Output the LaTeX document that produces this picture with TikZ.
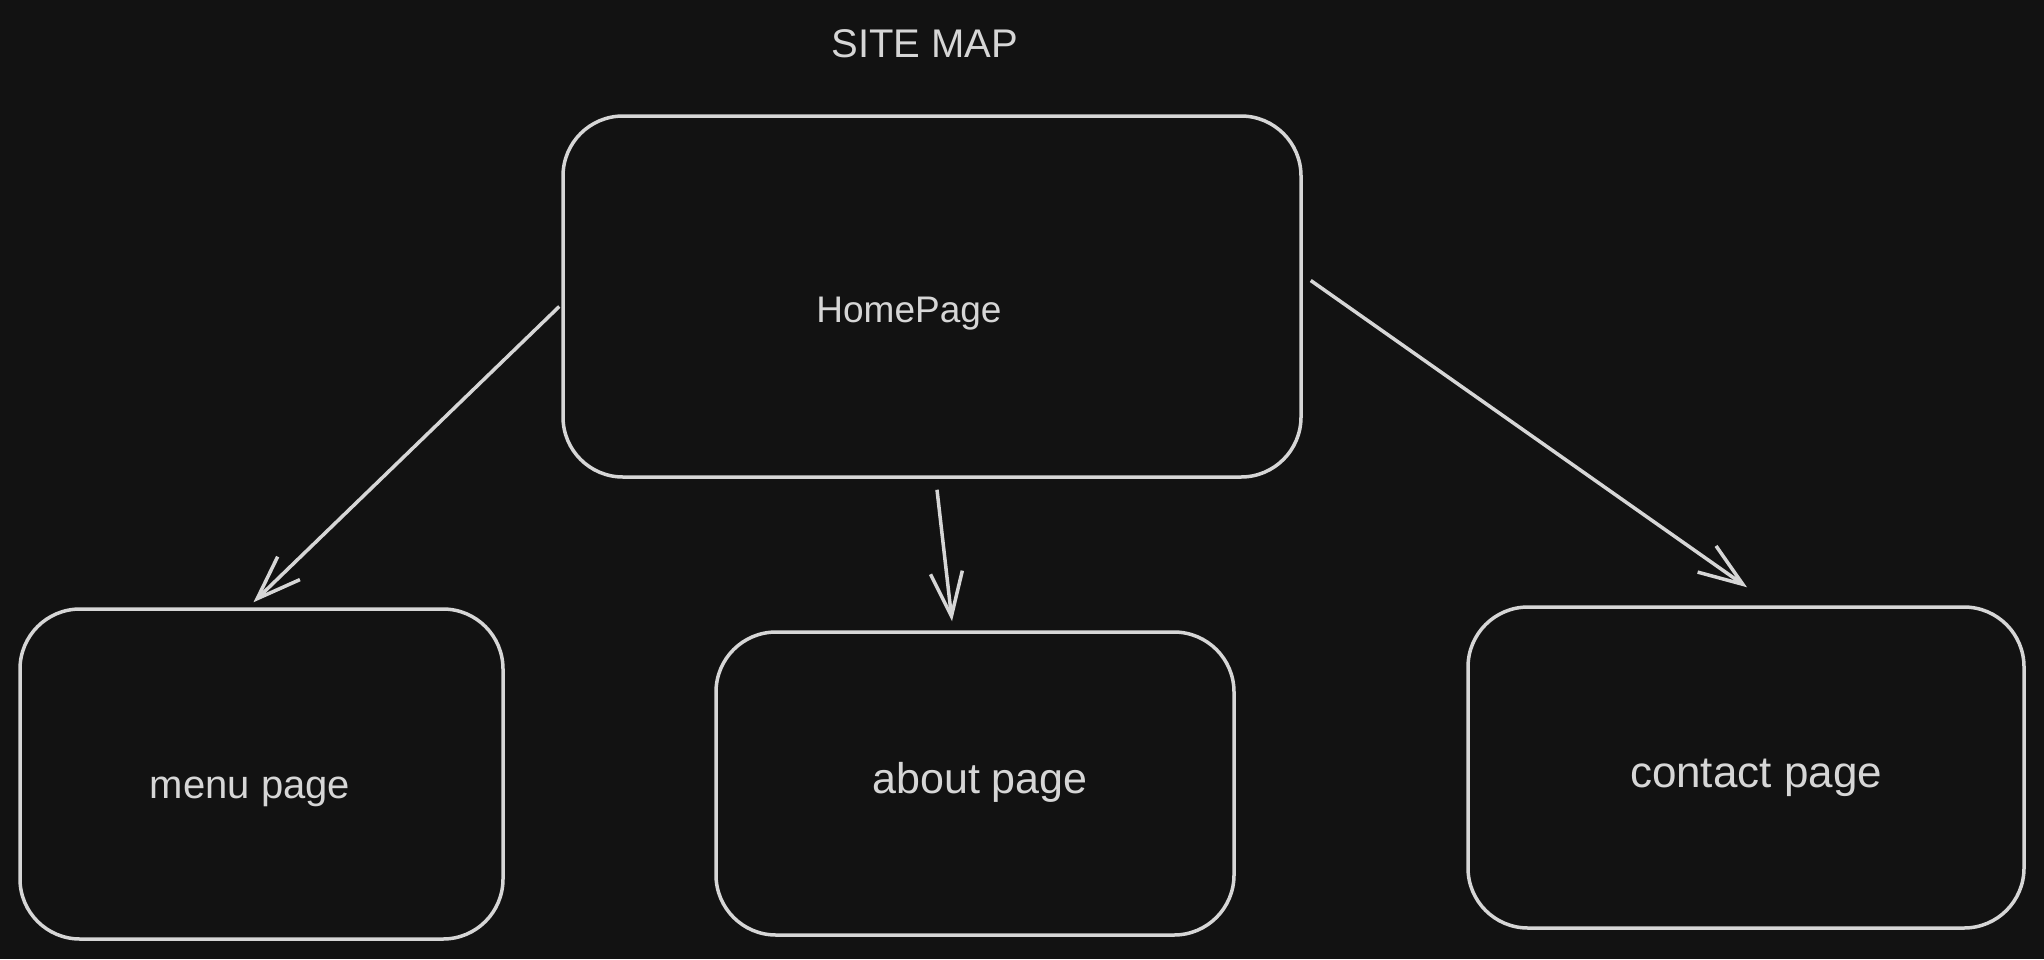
\documentclass[tikz,border=0pt]{standalone}
\usepackage{fontspec}
\setmainfont{Liberation Sans}
\usetikzlibrary{arrows.meta,calc}
\definecolor{bg}{HTML}{121212}
\definecolor{ink}{HTML}{D6D6D6}
\begin{document}
\begin{tikzpicture}[x=1pt,y=-1pt,
  pagebox/.style={draw=ink,line width=3.5pt,rounded corners=60pt,rectangle,inner sep=0pt},
  lbl/.style={text=ink,font=\fontsize{40}{44}\selectfont,inner sep=0pt},
  conn/.style={draw=ink,line width=3.5pt,-{Straight Barb[length=44pt,width=32pt,line width=3.5pt]}}]
\path[fill=bg,use as bounding box] (0,0) rectangle (2044,959);
\node[lbl,font=\fontsize{40}{44}\selectfont] (title) at (925,44) {SITE MAP};
\node[pagebox,minimum width=738pt,minimum height=361pt] (home) at (932,296.5) {};
\node[lbl,font=\fontsize{37}{40}\selectfont] (hometxt) at (909,314) {HomePage};
\node[pagebox,minimum width=483pt,minimum height=330pt] (menu) at (261.5,774) {};
\node[lbl] (menutxt) at (250,792) {menu page};
\node[pagebox,minimum width=518pt,minimum height=303pt] (about) at (975,783.5) {};
\node[lbl,font=\fontsize{43}{46}\selectfont] (abouttxt) at (980,782) {about page};
\node[pagebox,minimum width=556pt,minimum height=321pt] (contact) at (1746,767.5) {};
\node[lbl,font=\fontsize{44}{48}\selectfont] (contacttxt) at (1756,778) {contact page};
\draw[conn] ($(home.west)+(-2,10)$) -- ($(menu.north)+(-8,-5)$);
\draw[conn] ($(home.south)+(5,11)$) -- ($(about.north)+(-23,-9)$);
\draw[conn] ($(home.east)+(8,-16)$) -- ($(contact.north)+(1,-18)$);
\end{tikzpicture}
\end{document}
